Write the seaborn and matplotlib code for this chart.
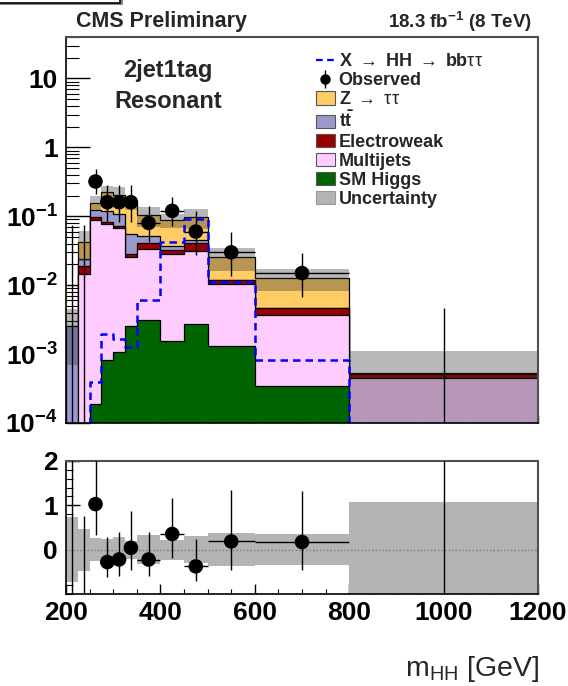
import numpy as np
import matplotlib
matplotlib.use("Agg")
import matplotlib.pyplot as plt
import seaborn as sns
from matplotlib.lines import Line2D
from matplotlib.patches import Patch, Rectangle
from matplotlib.ticker import MultipleLocator, FixedLocator, LogLocator, FuncFormatter, NullFormatter

# ---- binning (m_HH in GeV) ----
edges = [200, 225, 250, 275, 300, 325, 350, 400, 450, 500, 600, 800, 1200]

# ---- background processes, events / GeV ----
sm_higgs    = [0, 0, 1.9e-4, 8.1e-4, 1.07e-3, 2.6e-3, 3.15e-3, 1.53e-3, 2.7e-3, 1.31e-3, 3.5e-4, 0]
multijets   = [0, 0.0143, 0.0885, 0.0762, 0.0659, 0.0234, 0.0305, 0.027, 0.0291, 0.0092, 0.0034, 4.55e-4]
electroweak = [0, 0.0044, 0.0081, 0.0070, 0.0063, 0.0025, 0.0070, 0.0041, 0.0092, 0.0012, 0.00094, 6.5e-5]
ttbar       = [2.6e-3, 0.0055, 0.028, 0.037, 0.035, 0.027, 0.0118, 0.005, 0.004, 0, 0, 0]
ztautau     = [0, 0.0179, 0.033, 0.101, 0.097, 0.098, 0.0505, 0.051, 0.0513, 0.0136, 0.0081, 5e-6]
bkg_unc     = [1.9e-3, 0.020, 0.040, 0.055, 0.057, 0.031, 0.034, 0.020, 0.030, 0.0094, 0.0045, 5.7e-4]

# ---- signal hypothesis ----
signal = [0, 0, 3.9e-4, 1.98e-3, 1.67e-3, 1.26e-3, 6.0e-3, 0.042, 0.0916, 0.011, 8.1e-4, 0]

# ---- observed data, events / GeV with Poisson interval ----
observed = [0, 0, 0.32, 0.16, 0.16, 0.16, 0.08, 0.12, 0.06, 0.03, 0.015, 0]
obs_low  = [0, 0, 0.209, 0.0834, 0.0834, 0.0834, 0.0417, 0.0724, 0.0273, 0.0137, 0.00684, 0]
obs_high = [0.0736, 0.0736, 0.478, 0.2865, 0.2865, 0.2865, 0.1433, 0.1917, 0.1184, 0.0592, 0.0296, 0.0046]

y_tick_labels = ["10$^{\\mathbf{-4}}$", "10$^{\\mathbf{-3}}$", "10$^{\\mathbf{-2}}$",
                 "10$^{\\mathbf{-1}}$", "1", "10"]
x_tick_labels = ["200", "400", "600", "800", "1000", "1200"]
ratio_tick_labels = ["0", "1", "2"]

colors = {
    "higgs": "#006400",
    "multijets": "#ffccff",
    "ew": "#990000",
    "ttbar": "#9999cc",
    "ztt": "#ffcc66",
    "unc": "#b4b4b4",
    "band": (0.165, 0.165, 0.165, 0.33),
}

sns.set_theme(style="ticks")
plt.rcParams.update({
    "font.family": ["Liberation Sans", "DejaVu Sans"],
    "font.weight": "bold",
    "mathtext.fontset": "custom",
    "mathtext.rm": "Liberation Sans:weight=normal",
    "mathtext.bf": "Liberation Sans:weight=bold",
    "mathtext.it": "Liberation Sans:italic:weight=normal",
    "axes.edgecolor": "black",
    "axes.linewidth": 1.2,
    "xtick.color": "black",
    "ytick.color": "black",
})

W, H = 568, 686
fig = plt.figure(figsize=(W / 100, H / 100), dpi=100)
fig.patch.set_facecolor("white")


def fx(px):
    return px / W


def fy(py):
    return 1 - py / H


ax = fig.add_axes([fx(66), fy(423), fx(538) - fx(66), fy(37) - fy(423)])
axr = fig.add_axes([fx(66), fy(594), fx(538) - fx(66), fy(461) - fy(594)])

edges_arr = np.asarray(edges, dtype=float)
centers = 0.5 * (edges_arr[1:] + edges_arr[:-1])
half_w = 0.5 * np.diff(edges_arr)

# cumulative stack, drawn from the total downwards
components = np.vstack([sm_higgs, multijets, electroweak, ttbar, ztautau])
stack = np.cumsum(components, axis=0)
stack_colors = [colors["higgs"], colors["multijets"], colors["ew"], colors["ttbar"], colors["ztt"]]
for level in reversed(range(len(stack))):
    sns.histplot(x=centers, weights=stack[level], bins=edges, element="step",
                 fill=True, color=stack_colors[level], alpha=1, edgecolor="black",
                 linewidth=0.9, ax=ax)

total = stack[-1]
unc = np.asarray(bkg_unc)
ax.stairs(total + unc, edges_arr, baseline=total - unc, fill=True,
          color=colors["band"], linewidth=0)

sns.histplot(x=centers, weights=signal, bins=edges, element="step", fill=False,
             color="blue", linewidth=1.8, linestyle=(0, (3, 2)), ax=ax)

obs = np.asarray(observed)
lo = np.asarray(obs_low)
hi = np.asarray(obs_high)
has_data = obs > 0
xerr = np.where(has_data, half_w, 0)
ax.errorbar(centers, obs, yerr=[obs - lo, hi - obs], xerr=xerr, fmt="none",
            ecolor="black", elinewidth=1.0, capsize=0, zorder=5)
sns.scatterplot(x=centers[has_data], y=obs[has_data], color="black", s=110,
                edgecolor="none", zorder=6, ax=ax)

ax.set_yscale("log")
ax.set_xlim(200, 1200)
ax.set_ylim(1e-4, 40)
ax.set_xlabel("")
ax.set_ylabel("")

ax.xaxis.set_major_locator(MultipleLocator(100))
ax.xaxis.set_minor_locator(MultipleLocator(20))
ax.tick_params(axis="x", which="both", direction="in", top=False, bottom=True,
               labelbottom=False)
ax.tick_params(axis="x", which="major", length=6, width=1)
ax.tick_params(axis="x", which="minor", length=3, width=0.8)
ax.yaxis.set_major_locator(LogLocator(base=10, numticks=12))
ax.yaxis.set_minor_locator(LogLocator(base=10, subs=np.arange(2, 10), numticks=12))
ax.yaxis.set_minor_formatter(NullFormatter())


def ylab(v, pos):
    e = int(round(np.log10(v)))
    idx = e + 4
    if 0 <= idx < len(y_tick_labels):
        return y_tick_labels[idx]
    return ""


ax.yaxis.set_major_formatter(FuncFormatter(ylab))
ax.tick_params(axis="y", which="major", direction="in", length=17, width=1,
               labelsize=19, pad=6, right=False)
ax.tick_params(axis="y", which="minor", direction="in", length=9, width=0.8, right=False)
for s in ("top", "right"):
    ax.spines[s].set_color("#505050")
    ax.spines[s].set_linewidth(1.5)

# ---- ratio panel: (data - bkg) / bkg ----
rel_unc = unc / total
axr.stairs(rel_unc, edges_arr, baseline=-rel_unc, fill=True, color=colors["unc"], linewidth=0)
axr.axhline(0, color="#777777", linestyle=(0, (1, 1.5)), linewidth=1.0)
ratio = obs / total - 1
r_lo = lo / total - 1
r_hi = hi / total - 1
axr.errorbar(centers, ratio, yerr=[ratio - r_lo, r_hi - ratio], xerr=xerr, fmt="none",
             ecolor="black", elinewidth=1.0, capsize=0, zorder=5)
sns.scatterplot(x=centers[has_data], y=ratio[has_data], color="black", s=110,
                edgecolor="none", zorder=6, ax=axr)
axr.set_xlim(200, 1200)
axr.set_ylim(-1, 2)
axr.set_xlabel("")
axr.set_ylabel("")
axr.xaxis.set_major_locator(FixedLocator([200, 400, 600, 800, 1000, 1200]))
axr.set_xticklabels(x_tick_labels)
axr.xaxis.set_minor_locator(MultipleLocator(50))
axr.yaxis.set_major_locator(FixedLocator([0, 1, 2]))
axr.set_yticklabels(ratio_tick_labels)
axr.yaxis.set_minor_locator(MultipleLocator(0.2))
axr.tick_params(axis="x", which="major", direction="in", length=7, width=1,
                labelsize=19, pad=5, top=False)
axr.tick_params(axis="x", which="minor", direction="in", length=3.6, width=0.8, top=False)
axr.tick_params(axis="y", which="major", direction="in", length=10, width=1,
                labelsize=19, pad=6, right=False)
axr.tick_params(axis="y", which="minor", direction="in", length=5, width=0.8, right=False)
for s in ("top", "right"):
    axr.spines[s].set_color("#505050")
    axr.spines[s].set_linewidth(1.5)

# ---- texts ----
fig.text(fx(162), fy(22), "CMS Preliminary", ha="center", va="center", fontsize=15.5,
         fontweight="bold")
fig.text(fx(532), fy(22), "18.3 fb$^{\\mathbf{-1}}$ (8 TeV)", ha="right", va="center",
         fontsize=13.5, fontweight="bold")
fig.text(fx(168), fy(70), "2jet1tag", ha="center", va="center", fontsize=17, fontweight="bold")
fig.text(fx(168), fy(101), "Resonant", ha="center", va="center", fontsize=17, fontweight="bold")
fig.text(fx(539), fy(676), "m$_{\\mathrm{HH}}$ [GeV]", ha="right", va="baseline",
         fontsize=20.5, fontweight="normal")

# ---- legend ----
obs_handle = ax.errorbar([np.nan], [np.nan], yerr=[[np.nan], [np.nan]], fmt="o", ms=6.5,
                         color="black", elinewidth=1.0, capsize=0)
handles = [
    Line2D([], [], color="blue", linewidth=1.6, linestyle=(0, (3, 2))),
    obs_handle,
    Patch(facecolor=colors["ztt"], edgecolor="#555555", linewidth=0.8),
    Patch(facecolor=colors["ttbar"], edgecolor="#555555", linewidth=0.8),
    Patch(facecolor=colors["ew"], edgecolor="#555555", linewidth=0.8),
    Patch(facecolor=colors["multijets"], edgecolor="#555555", linewidth=0.8),
    Patch(facecolor=colors["higgs"], edgecolor="#555555", linewidth=0.8),
    Patch(facecolor=colors["unc"], edgecolor="#999999", linewidth=0.8),
]
labels = [
    "X $\\rightarrow$ HH $\\rightarrow$ bb$\\mathrm{\\tau\\tau}$",
    "Observed",
    "Z $\\rightarrow$ $\\mathrm{\\tau\\tau}$",
    "$\\mathbf{t\\bar{t}}$",
    "Electroweak",
    "Multijets",
    "SM Higgs",
    "Uncertainty",
]
fig.legend(handles, labels, loc="upper left", bbox_to_anchor=(fx(316), fy(53)),
           bbox_transform=fig.transFigure, frameon=False, fontsize=13,
           handlelength=1.05, handleheight=0.75, handletextpad=0.2,
           labelspacing=0.12, borderpad=0, borderaxespad=0)

# ---- canvas title box remnant at the top-left ----
fig.patches.append(Rectangle((fx(-2), fy(5)), fx(125), fy(0) - fy(5) + 0.02,
                             transform=fig.transFigure, facecolor="#8a8a8a",
                             edgecolor="none", zorder=0))
fig.patches.append(Rectangle((fx(-5), fy(2.5)), fx(125), 0.03,
                             transform=fig.transFigure, facecolor="white",
                             edgecolor="black", linewidth=1.2, zorder=1))

fig.savefig("out.png", dpi=100)
